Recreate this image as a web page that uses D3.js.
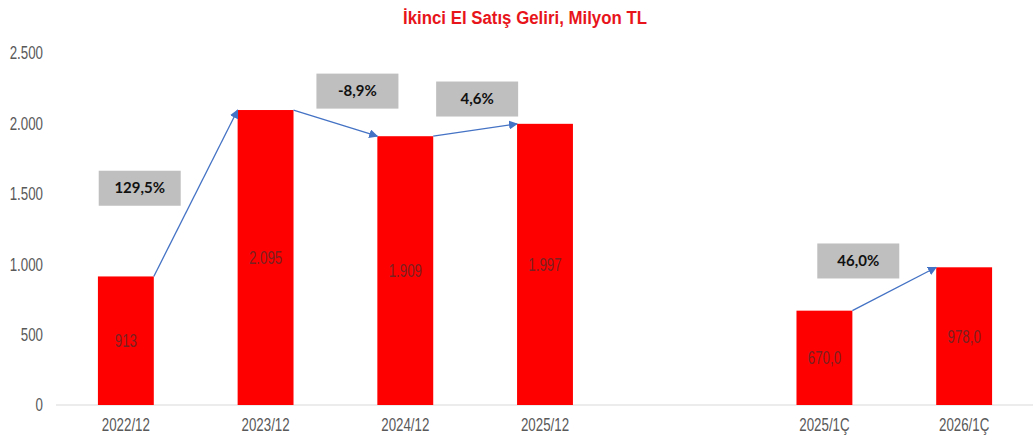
<!DOCTYPE html>
<html>
<head>
<meta charset="utf-8">
<script src="https://cdn.jsdelivr.net/npm/d3@7"></script>
<style>
  body { margin: 0; background: #fff; }
  svg { display: block; }
</style>
</head>
<body>
<svg id="chart" width="1033" height="439"></svg>
<script>
'use strict'

// data
const title = 'İkinci El Satış Geliri, Milyon TL'
const slots = ['2022/12', '2023/12', '2024/12', '2025/12', '', '2025/1Ç', '2026/1Ç']
const categories = ['2022/12', '2023/12', '2024/12', '2025/12', '2025/1Ç', '2026/1Ç']
const values = [913, 2095, 1909, 1997, 670, 978]
const valueLabels = ['913', '2.095', '1.909', '1.997', '670,0', '978,0']
const yTicks = [0, 500, 1000, 1500, 2000, 2500]
const changeFrom = ['2022/12', '2023/12', '2024/12', '2025/1Ç']
const changeTo = ['2023/12', '2024/12', '2025/12', '2026/1Ç']
const changeLabels = ['129,5%', '-8,9%', '4,6%', '46,0%']
// where each grey box sits, relative to its arrow's midpoint
const boxOffsets = [[-56, -5], [22, -32], [2, -31], [-36, -28]]

// no Arial Narrow here, so squeeze Liberation Sans sideways
const sans = '"Liberation Sans", Arial, sans-serif'
const squeeze = 0.72
const labelSize = '18.5px'

let svg = d3.select('#chart')
let width = 1033

let x = d3.scaleBand().domain(slots.map((d, i) => i)).range([56, 1034]).paddingInner(0.6).paddingOuter(0.3)
let y = d3.scaleLinear().domain([0, 2500]).range([405, 53])

let slotOf = c => slots.indexOf(c)
let narrowAt = (px, py) => `translate(${px},${py}) scale(${squeeze},1)`

svg.append('text')
    .attr('x', 525)
    .attr('y', 24)
    .attr('text-anchor', 'middle')
    .attr('font-family', sans)
    .attr('font-weight', 'bold')
    .attr('font-size', '17.5px')
    .attr('textLength', 244)
    .attr('lengthAdjust', 'spacingAndGlyphs')
    .attr('fill', '#e8141b')
    .text(title)

// y axis labels only
svg.append('g').selectAll('text').data(yTicks).enter().append('text')
    .attr('transform', d => narrowAt(43, y(d)))
    .attr('dy', '.35em')
    .attr('text-anchor', 'end')
    .attr('font-family', sans)
    .attr('font-size', labelSize)
    .attr('fill', '#595959')
    .text(d => d3.format(',')(d).replace(/,/g, '.'))

// baseline
svg.append('line')
    .attr('x1', 56).attr('x2', width)
    .attr('y1', y(0)).attr('y2', y(0))
    .attr('stroke', '#d9d9d9')
    .attr('stroke-width', 1.2)

// bars
let bars = svg.append('g').selectAll('g').data(categories).enter().append('g')

bars.append('rect')
    .attr('x', d => x(slotOf(d)))
    .attr('y', (d, i) => y(values[i]))
    .attr('width', x.bandwidth())
    .attr('height', (d, i) => y(0) - y(values[i]))
    .attr('fill', '#ff0000')

bars.append('text')
    .attr('transform', (d, i) => narrowAt(x(slotOf(d)) + x.bandwidth() / 2, (y(values[i]) + y(0)) / 2))
    .attr('dy', '.35em')
    .attr('text-anchor', 'middle')
    .attr('font-family', sans)
    .attr('font-size', labelSize)
    .attr('fill', '#7a2020')
    .text((d, i) => valueLabels[i])

// x axis labels
svg.append('g').selectAll('text').data(categories).enter().append('text')
    .attr('transform', d => narrowAt(x(slotOf(d)) + x.bandwidth() / 2, 431))
    .attr('text-anchor', 'middle')
    .attr('font-family', sans)
    .attr('font-size', labelSize)
    .attr('fill', '#595959')
    .text(d => d)

// arrows between bars
svg.append('defs').append('marker')
    .attr('id', 'head')
    .attr('viewBox', '0 0 10 10')
    .attr('refX', 9).attr('refY', 5)
    .attr('markerWidth', 9).attr('markerHeight', 9)
    .attr('markerUnits', 'userSpaceOnUse')
    .attr('orient', 'auto')
    .append('path')
    .attr('d', 'M0,0 L10,5 L0,10 Z')
    .attr('fill', '#4472c4')

let changes = changeFrom.map((f, i) => {
    let a = categories.indexOf(f), b = categories.indexOf(changeTo[i])
    let x1 = x(slotOf(f)) + x.bandwidth(), y1 = y(values[a])
    let x2 = x(slotOf(changeTo[i])), y2 = y(values[b])
    return { x1, y1, x2, y2, label: changeLabels[i], off: boxOffsets[i] }
})

svg.append('g').selectAll('line').data(changes).enter().append('line')
    .attr('x1', d => d.x1).attr('y1', d => d.y1)
    .attr('x2', d => d.x2).attr('y2', d => d.y2)
    .attr('stroke', '#4472c4')
    .attr('stroke-width', 1.3)
    .attr('marker-end', 'url(#head)')

let boxes = svg.append('g').selectAll('g').data(changes).enter().append('g')
    .attr('transform', d => `translate(${(d.x1 + d.x2) / 2 + d.off[0]}, ${(d.y1 + d.y2) / 2 + d.off[1]})`)

boxes.append('rect')
    .attr('x', -41).attr('y', -17.5)
    .attr('width', 82).attr('height', 35)
    .attr('fill', '#bfbfbf')

boxes.append('text')
    .attr('text-anchor', 'middle')
    .attr('dy', '.35em')
    .attr('font-family', 'Lato, "Open Sans", sans-serif')
    .attr('font-weight', 'bold')
    .attr('font-size', '15px')
    .attr('fill', '#111')
    .text(d => d.label)
</script>
</body>
</html>
